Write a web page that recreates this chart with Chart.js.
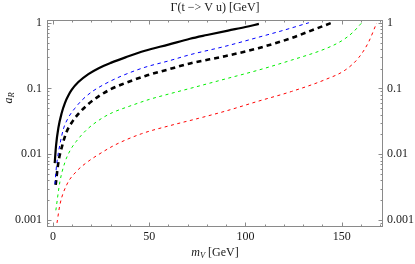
<!DOCTYPE html>
<html lang="en">
<head>
  <meta charset="UTF-8" />
  <title>Gamma(t -> V u)</title>
  <script src="https://cdn.jsdelivr.net/npm/chart.js"></script>
  <style>
    body {
      margin: 0;
      background: #ffffff;
    }
    #chart {
      display: block;
    }
  </style>
</head>
<body>
  <canvas id="chart" width="415" height="264"></canvas>

  <script>
    // curve data: mV [GeV] and a_R
    const solidMass  = [0.9, 1.6, 2.8, 4.5, 6.2, 8, 9.7, 13.2, 18.4, 24, 30, 38, 47.8, 60, 71.2, 80, 91, 100, 107];
    const solidAR    = [0.0073, 0.0135, 0.025, 0.042, 0.06, 0.078, 0.095, 0.125, 0.165, 0.205, 0.245, 0.3, 0.375, 0.465, 0.57, 0.65, 0.76, 0.86, 0.96];

    const blueMass   = [1.0, 1.9, 3.5, 5.4, 8, 11.4, 15, 20, 27, 35.7, 47.8, 60, 71.2, 89.4, 106.7, 120, 133];
    const blueAR     = [0.0035, 0.0069, 0.0135, 0.024, 0.036, 0.05, 0.066, 0.088, 0.117, 0.155, 0.21, 0.262, 0.326, 0.437, 0.6, 0.77, 1.0];

    const dashMass   = [1.4, 2.8, 4.5, 7.1, 9.7, 13.2, 18.4, 23.5, 29.6, 35.7, 48, 60, 71.2, 89.4, 106.7, 124, 136.2, 144.5];
    const dashAR     = [0.0034, 0.0075, 0.0125, 0.022, 0.03, 0.041, 0.058, 0.075, 0.096, 0.115, 0.155, 0.195, 0.24, 0.31, 0.41, 0.585, 0.8, 0.99];

    const greenMass  = [1.5, 3.6, 6.2, 9, 12, 17.5, 25.3, 31, 40, 50, 60, 71.2, 89.4, 106.7, 124, 141.4, 150, 156, 159.5, 160.5];
    const greenAR    = [0.0014, 0.0038, 0.0075, 0.0115, 0.0155, 0.0235, 0.035, 0.043, 0.054, 0.068, 0.082, 0.1, 0.139, 0.19, 0.27, 0.4, 0.53, 0.72, 0.93, 1.0];

    const redMass    = [2.1, 3.6, 7.1, 12.3, 18.4, 23.5, 32.2, 46.1, 60.8, 75.5, 89.4, 106.7, 124, 141.4, 151.8, 158.7, 163.9, 168.2];
    const redAR      = [0.0009, 0.0017, 0.0034, 0.0055, 0.0078, 0.0098, 0.0138, 0.0205, 0.0272, 0.035, 0.045, 0.064, 0.09, 0.136, 0.19, 0.29, 0.5, 0.99];

    // axis ticks
    const xMajorTicks = [0, 50, 100, 150];
    const xMinorTicks = [10, 20, 30, 40, 60, 70, 80, 90, 110, 120, 130, 140, 160, 170];
    const yMajorTicks = [0.001, 0.01, 0.1, 1];

    const titleText = 'Γ(t −> V u) [GeV]';

    const serif = "'Liberation Serif', 'DejaVu Serif', serif";
    const frameColor = '#8a8a8a';

    function points(xs, ys) {
      return xs.map((x, i) => ({ x: x, y: ys[i] }));
    }

    function isMajorY(v) {
      return yMajorTicks.some(t => Math.abs(t - v) / t < 1e-6);
    }

    // frame, inside tick marks and the text labels
    const framePlugin = {
      id: 'frame',
      afterDraw(chart) {
        const ctx = chart.ctx;
        const a = chart.chartArea;
        const xs = chart.scales.x;
        const ys = chart.scales.y;

        ctx.save();
        ctx.strokeStyle = frameColor;
        ctx.lineWidth = 1;
        ctx.strokeRect(a.left + 0.5, a.top + 0.5, a.right - a.left - 1, a.bottom - a.top - 1);

        ctx.beginPath();
        const xTicks = xMajorTicks.map(v => [v, 4.5]).concat(xMinorTicks.map(v => [v, 2.5]));
        xTicks.forEach(([v, len]) => {
          const px = Math.round(xs.getPixelForValue(v)) + 0.5;
          ctx.moveTo(px, a.bottom);
          ctx.lineTo(px, a.bottom - len);
          ctx.moveTo(px, a.top);
          ctx.lineTo(px, a.top + len);
        });
        for (let k = -4; k <= 0; k++) {
          for (let d = 1; d <= 9; d++) {
            const v = d * Math.pow(10, k);
            if (v < ys.min || v > ys.max) continue;
            const len = d === 1 ? 4.5 : 2.5;
            const py = Math.round(ys.getPixelForValue(v)) + 0.5;
            ctx.moveTo(a.left, py);
            ctx.lineTo(a.left + len, py);
            ctx.moveTo(a.right, py);
            ctx.lineTo(a.right - len, py);
          }
        }
        ctx.stroke();

        ctx.fillStyle = '#1a1a1a';
        ctx.textBaseline = 'middle';

        // title
        ctx.font = '12px ' + serif;
        ctx.textAlign = 'center';
        ctx.fillText(titleText, (a.left + a.right) / 2, 7.5);

        // x axis label: m_V [GeV]
        const cx = (a.left + a.right) / 2;
        const y0 = 253;
        ctx.font = 'italic 12px ' + serif;
        const wM = ctx.measureText('m').width;
        ctx.font = 'italic 8.5px ' + serif;
        const wV = ctx.measureText('V').width;
        ctx.font = '12px ' + serif;
        const wRest = ctx.measureText(' [GeV]').width;
        let x0 = cx - (wM + wV + wRest) / 2;
        ctx.textAlign = 'left';
        ctx.font = 'italic 12px ' + serif;
        ctx.fillText('m', x0, y0);
        ctx.font = 'italic 8.5px ' + serif;
        ctx.fillText('V', x0 + wM, y0 + 3);
        ctx.font = '12px ' + serif;
        ctx.fillText(' [GeV]', x0 + wM + wV, y0);

        // y axis label: a_R
        ctx.translate(9, 98);
        ctx.rotate(-Math.PI / 2);
        ctx.font = 'italic 12px ' + serif;
        const wa = ctx.measureText('a').width;
        ctx.font = 'italic 8.5px ' + serif;
        const wR = ctx.measureText('R').width;
        const s0 = -(wa + wR) / 2;
        ctx.font = 'italic 12px ' + serif;
        ctx.fillText('a', s0, 0);
        ctx.font = 'italic 8.5px ' + serif;
        ctx.fillText('R', s0 + wa, 3);
        ctx.restore();
      }
    };

    function yTickOpts(pad) {
      return {
        autoSkip: false,
        includeBounds: false,
        padding: pad,
        color: '#1a1a1a',
        font: { family: serif, size: 12 },
        callback: function (value) {
          return isMajorY(value) ? String(value) : '';
        }
      };
    }

    const noGrid = { display: false, drawTicks: false };

    new Chart(document.getElementById('chart'), {
      type: 'line',
      data: {
        datasets: [
          {
            data: points(solidMass, solidAR),
            borderColor: '#000000',
            borderWidth: 2.2
          },
          {
            data: points(blueMass, blueAR),
            borderColor: '#0000ff',
            borderWidth: 1,
            borderDash: [3.5, 3.5]
          },
          {
            data: points(dashMass, dashAR),
            borderColor: '#000000',
            borderWidth: 2.6,
            borderDash: [5, 4]
          },
          {
            data: points(greenMass, greenAR),
            borderColor: '#00ee00',
            borderWidth: 1,
            borderDash: [3, 3.5]
          },
          {
            data: points(redMass, redAR),
            borderColor: '#ff0000',
            borderWidth: 1,
            borderDash: [3, 3.5]
          }
        ]
      },
      options: {
        responsive: false,
        animation: false,
        layout: { padding: 0 },
        elements: {
          point: { radius: 0 },
          line: { cubicInterpolationMode: 'monotone', fill: false }
        },
        plugins: {
          legend: { display: false },
          tooltip: { enabled: false }
        },
        scales: {
          x: {
            type: 'linear',
            position: 'bottom',
            min: -3.1,
            max: 171.5,
            grid: noGrid,
            border: { display: false },
            afterFit(scale) { scale.height = 37; },
            ticks: {
              stepSize: 10,
              autoSkip: false,
              includeBounds: false,
              maxRotation: 0,
              padding: 3,
              color: '#1a1a1a',
              font: { family: serif, size: 12 },
              callback: function (value) {
                return xMajorTicks.includes(value) ? String(value) : '';
              }
            }
          },
          x2: {
            type: 'linear',
            position: 'top',
            min: -3.1,
            max: 171.5,
            grid: noGrid,
            border: { display: false },
            ticks: { display: false },
            afterFit(scale) { scale.height = 20; }
          },
          y: {
            type: 'logarithmic',
            position: 'left',
            min: 0.00078,
            max: 1.1,
            grid: noGrid,
            border: { display: false },
            afterFit(scale) { scale.width = 47; },
            ticks: yTickOpts(5)
          },
          y2: {
            type: 'logarithmic',
            position: 'right',
            min: 0.00078,
            max: 1.1,
            grid: noGrid,
            border: { display: false },
            afterFit(scale) { scale.width = 32; },
            ticks: yTickOpts(4)
          }
        }
      },
      plugins: [framePlugin]
    });
  </script>
</body>
</html>
